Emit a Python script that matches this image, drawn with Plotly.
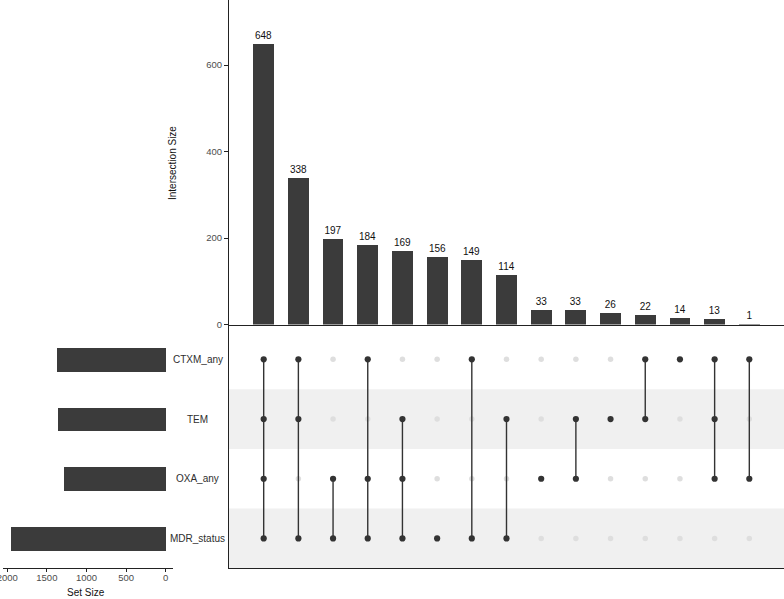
import plotly.graph_objects as go

W, H = 784, 599

set_names = ["CTXM_any", "TEM", "OXA_any", "MDR_status"]
set_sizes = [1369, 1363, 1278, 1955]

intersection_sizes = [648, 338, 197, 184, 169, 156, 149, 114, 33, 33, 26, 22, 14, 13, 1]
intersection_members = [
    ["CTXM_any", "TEM", "OXA_any", "MDR_status"],
    ["CTXM_any", "TEM", "MDR_status"],
    ["OXA_any", "MDR_status"],
    ["CTXM_any", "OXA_any", "MDR_status"],
    ["TEM", "OXA_any", "MDR_status"],
    ["MDR_status"],
    ["CTXM_any", "MDR_status"],
    ["TEM", "MDR_status"],
    ["OXA_any"],
    ["TEM", "OXA_any"],
    ["TEM"],
    ["CTXM_any", "TEM"],
    ["CTXM_any"],
    ["CTXM_any", "TEM", "OXA_any"],
    ["CTXM_any", "OXA_any"],
]

bar_ticks = [0, 200, 400, 600]
set_ticks = [0, 500, 1000, 1500, 2000]
striped_sets = ["TEM", "MDR_status"]


def px(x):
    return x / W


def py(y):
    return 1 - y / H


BAR = "#3b3b3b"
DOT = "#333333"
DOT_OFF = "#dedede"
AXIS = "#222222"
TICK_TXT = "#4d4d4d"
FONT = "Liberation Sans, Arial, sans-serif"

# top row index for the first set
row_of = {name: len(set_names) - 1 - i for i, name in enumerate(set_names)}
cols = list(range(len(intersection_sizes)))

fig = go.Figure()

# --- intersection bars ---
fig.add_trace(
    go.Bar(
        x=cols,
        y=intersection_sizes,
        width=0.6,
        marker=dict(color=BAR, line=dict(width=0)),
        text=intersection_sizes,
        textposition="outside",
        constraintext="none",
        textfont=dict(size=10, color="#111111", family=FONT),
        cliponaxis=False,
        xaxis="x",
        yaxis="y",
        showlegend=False,
    )
)

# --- matrix dots and connectors ---
off_x, off_y, on_x, on_y, seg_x, seg_y = [], [], [], [], [], []
for i, members in enumerate(intersection_members):
    rows = [row_of[m] for m in members]
    for name in set_names:
        if name in members:
            on_x.append(i)
            on_y.append(row_of[name])
        else:
            off_x.append(i)
            off_y.append(row_of[name])
    if len(rows) > 1:
        seg_x += [i, i, None]
        seg_y += [min(rows), max(rows), None]

fig.add_trace(
    go.Scatter(
        x=off_x, y=off_y, mode="markers",
        marker=dict(color=DOT_OFF, size=5.5),
        xaxis="x2", yaxis="y2", showlegend=False,
    )
)
fig.add_trace(
    go.Scatter(
        x=seg_x, y=seg_y, mode="lines",
        line=dict(color=DOT, width=1.4),
        xaxis="x2", yaxis="y2", showlegend=False,
    )
)
fig.add_trace(
    go.Scatter(
        x=on_x, y=on_y, mode="markers",
        marker=dict(color=DOT, size=6.2),
        xaxis="x2", yaxis="y2", showlegend=False,
    )
)

# --- set size bars ---
fig.add_trace(
    go.Bar(
        x=set_sizes,
        y=[row_of[n] for n in set_names],
        orientation="h",
        width=0.4,
        marker=dict(color=BAR, line=dict(width=0)),
        xaxis="x3",
        yaxis="y3",
        showlegend=False,
    )
)

# stripes behind matrix rows
shapes = []
for name in striped_sets:
    r = row_of[name]
    shapes.append(
        dict(
            type="rect", xref="x2 domain", yref="y2",
            x0=0, x1=1, y0=r - 0.5, y1=r + 0.5,
            fillcolor="#f0f0f0", line=dict(width=0), layer="below",
        )
    )

annotations = []
for name in set_names:
    annotations.append(
        dict(
            x=px(198), y=row_of[name], xref="paper", yref="y2",
            text=name, showarrow=False, xanchor="center", yanchor="middle",
            font=dict(size=10, color="#2e2e2e", family=FONT),
        )
    )
annotations.append(
    dict(
        x=px(172), y=py(163), xref="paper", yref="paper",
        text="Intersection Size", showarrow=False, textangle=-90,
        xanchor="center", yanchor="middle",
        font=dict(size=10, color="#111111", family=FONT),
    )
)
annotations.append(
    dict(
        x=px(86), y=py(592), xref="paper", yref="paper",
        text="Set Size", showarrow=False,
        xanchor="center", yanchor="middle",
        font=dict(size=10, color="#111111", family=FONT),
    )
)

matrix_dom = [py(568.3), py(324.5)]
matrix_range = [-0.5, -0.5 + (568.3 - 324.5) / 59.7]

fig.update_layout(
    width=W,
    height=H,
    margin=dict(l=0, r=0, t=0, b=0),
    paper_bgcolor="white",
    plot_bgcolor="white",
    font=dict(family=FONT, size=10, color=TICK_TXT),
    shapes=shapes,
    annotations=annotations,
    bargap=0,
    xaxis=dict(
        domain=[px(229), 1], range=[-1, 15], anchor="y", automargin=False,
        showgrid=False, zeroline=False, showticklabels=False, ticks="",
        showline=True, linecolor=AXIS, linewidth=1,
    ),
    yaxis=dict(
        domain=[py(324.5), 1], range=[0, 750.5], anchor="x", automargin=False,
        showgrid=False, zeroline=False,
        tickvals=bar_ticks, ticks="outside", ticklen=4, tickcolor=AXIS,
        tickfont=dict(size=9.5, color=TICK_TXT),
        showline=True, linecolor=AXIS, linewidth=1,
    ),
    xaxis2=dict(
        domain=[px(229), 1], range=[-1, 15], anchor="y2", automargin=False,
        showgrid=False, zeroline=False, showticklabels=False, ticks="",
        showline=True, linecolor=AXIS, linewidth=1,
    ),
    yaxis2=dict(
        domain=matrix_dom, range=matrix_range, anchor="x2", automargin=False,
        showgrid=False, zeroline=False, showticklabels=False, ticks="",
        showline=True, linecolor=AXIS, linewidth=1,
    ),
    xaxis3=dict(
        domain=[px(3.1), px(173.4)], range=[2052.75, -97.75], anchor="y3",
        automargin=False, ticklabeloverflow="allow", ticklabelstandoff=-3,
        showgrid=False, zeroline=False,
        tickvals=set_ticks, ticks="outside", ticklen=3, tickcolor=AXIS,
        tickfont=dict(size=9.5, color=TICK_TXT),
        showline=True, linecolor=AXIS, linewidth=1,
    ),
    yaxis3=dict(
        domain=matrix_dom, range=matrix_range, anchor="x3",
        automargin=False, visible=False,
    ),
)

# page body has a default 8px margin; drop it so the figure sits at 0,0
fig.write_html(
    "out.html",
    config={"displayModeBar": False},
    post_script="document.body.style.margin='0';",
)
